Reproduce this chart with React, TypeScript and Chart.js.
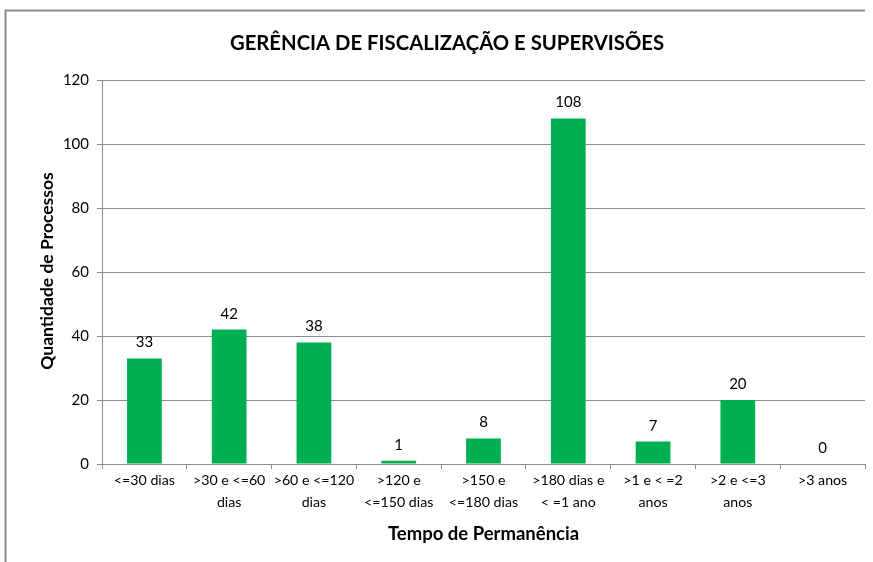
import React, { useEffect, useRef } from "react";
import { Chart, registerables } from "chart.js";

Chart.register(...registerables);

const chartTitle = "GERÊNCIA DE FISCALIZAÇÃO E SUPERVISÕES";
const xTitle = "Tempo de Permanência";
const yTitle = "Quantidade de Processos";
const categories: string[][] = [
  ["<=30 dias"],
  [">30 e <=60", "dias"],
  [">60 e <=120", "dias"],
  [">120 e", "<=150 dias"],
  [">150 e", "<=180 dias"],
  [">180 dias e", "< =1 ano"],
  [">1 e < =2", "anos"],
  [">2 e <=3", "anos"],
  [">3 anos"],
];
const values: number[] = [33, 42, 38, 1, 8, 108, 7, 20, 0];
const yMin = 0;
const yMax = 120;
const yStep = 20;

const FONT = "Lato, 'Open Sans', sans-serif";

const decorPlugin = {
  id: "decor",
  beforeDraw(chart: any) {
    const ctx = chart.ctx;
    const area = chart.chartArea;
    ctx.save();
    ctx.strokeStyle = "#8c8c8c";
    ctx.lineWidth = 2;
    ctx.beginPath();
    ctx.moveTo(5.5, chart.height);
    ctx.lineTo(5.5, 10.5);
    ctx.lineTo(area.right, 10.5);
    ctx.stroke();
    ctx.restore();
  },
  afterDraw(chart: any) {
    const ctx = chart.ctx;
    const area = chart.chartArea;
    ctx.save();
    ctx.fillStyle = "#000";
    ctx.textAlign = "center";
    ctx.textBaseline = "middle";
    ctx.font = `bold 20.3px ${FONT}`;
    ctx.fillText(chartTitle, 447, 43);
    ctx.font = `bold 18.5px ${FONT}`;
    ctx.fillText(xTitle, (area.left + area.right) / 2, 534);
    ctx.font = `bold 17.5px ${FONT}`;
    ctx.translate(47, 271);
    ctx.rotate(-Math.PI / 2);
    ctx.fillText(yTitle, 0, 0);
    ctx.restore();

    // data labels
    const meta = chart.getDatasetMeta(0);
    ctx.save();
    ctx.font = `15px ${FONT}`;
    ctx.fillStyle = "#000";
    ctx.textAlign = "center";
    ctx.textBaseline = "alphabetic";
    meta.data.forEach((bar: any, i: number) => {
      ctx.fillText(String(values[i]), bar.x, bar.y - 11);
    });
    ctx.restore();
  },
};

export default function App() {
  const ref = useRef<HTMLCanvasElement>(null);
  useEffect(() => {
    if (!ref.current) return;
    const chart = new Chart(ref.current, {
      type: "bar",
      data: {
        labels: categories,
        datasets: [
          {
            data: values,
            backgroundColor: "#00B050",
            barPercentage: 0.41,
            categoryPercentage: 1,
          },
        ],
      },
      options: {
        responsive: false,
        animation: false,
        layout: { padding: { top: 80, right: 8, left: 10, bottom: 0 } },
        plugins: {
          legend: { display: false },
          tooltip: { enabled: false },
          title: { display: false },
        },
        scales: {
          x: {
            grid: {
              offset: true,
              drawOnChartArea: false,
              drawTicks: true,
              tickLength: 5,
              color: "#8c8c8c",
            },
            border: { color: "#8c8c8c" },
            ticks: {
              color: "#000",
              font: { family: FONT, size: 14.2, lineHeight: 1.5 },
              maxRotation: 0,
              autoSkip: false,
              padding: 1,
            },
            afterFit: (s: any) => {
              s.height = 562 - 464;
            },
          },
          y: {
            min: yMin,
            max: yMax,
            grid: { color: "#8c8c8c", tickLength: 5 },
            border: { color: "#8c8c8c" },
            ticks: {
              stepSize: yStep,
              color: "#000",
              font: { family: FONT, size: 15 },
              padding: 8,
            },
            afterFit: (s: any) => {
              s.width = 102 - 10;
            },
          },
        },
      },
      plugins: [decorPlugin],
    });
    return () => chart.destroy();
  }, []);
  return (
    <canvas
      ref={ref}
      width={873}
      height={562}
      style={{ position: "fixed", left: 0, top: 0, display: "block", background: "#fff" }}
    />
  );
}
